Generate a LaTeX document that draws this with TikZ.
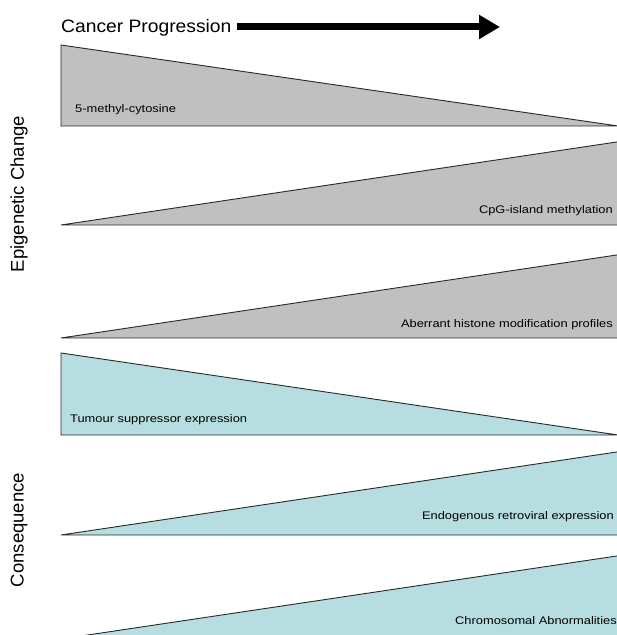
\documentclass[tikz,border=0pt]{standalone}
\usepackage{fontspec}
\setmainfont{Liberation Sans}
\usetikzlibrary{arrows.meta}
\definecolor{wedgegray}{RGB}{192,192,192}
\definecolor{wedgeteal}{RGB}{182,222,225}
\definecolor{edgecol}{RGB}{40,40,40}

\begin{document}
\begin{tikzpicture}[x=1pt,y=1pt,
    epi/.style={fill=wedgegray, draw=edgecol, line width=0.9pt},
    cons/.style={fill=wedgeteal, draw=edgecol, line width=0.9pt},
    lbl/.style={font=\fontsize{11}{13}\selectfont, inner sep=0pt},
    side/.style={font=\fontsize{18.5}{22}\selectfont, rotate=90, inner sep=0pt}]
    \useasboundingbox (0,0) rectangle (617,635);
    \clip (0,0) rectangle (617,635);

    % Title and arrow
    \node[anchor=west, inner sep=0pt, font=\fontsize{18}{22}\selectfont] (title) at (61,607) {\scalebox{1.07}[1]{Cancer Progression}};
    \coordinate (arrowstart) at (237,608);
    \coordinate (arrowend) at (500,608);
    \draw[line width=7pt, -{Triangle[length=21pt,width=23pt]}] (arrowstart) -- (arrowend);

    % Epigenetic change wedges
    \filldraw[epi] (61,590) -- (61,509) -- (618,509) -- cycle;
    \filldraw[epi] (61,410) -- (620,493.5) -- (620,410) -- cycle;
    \filldraw[epi] (61,297) -- (620,380.5) -- (620,297) -- cycle;

    % Consequence wedges
    \filldraw[cons] (61,282) -- (61,200) -- (618,200) -- cycle;
    \filldraw[cons] (61,100) -- (620,183.5) -- (620,100) -- cycle;
    \filldraw[cons] (61,-4) -- (620,79.5) -- (620,-10) -- (61,-10) -- cycle;

    % Labels
    \node[lbl, anchor=west] (methyl) at (75,525) {\scalebox{1.17}[1]{5-methyl-cytosine}};
    \node[lbl, anchor=east] (cpg) at (613,424) {\scalebox{1.17}[1]{CpG-island methylation}};
    \node[lbl, anchor=east] (histone) at (613,310) {\scalebox{1.17}[1]{Aberrant histone modification profiles}};
    \node[lbl, anchor=west] (tumour) at (70,215) {\scalebox{1.17}[1]{Tumour suppressor expression}};
    \node[lbl, anchor=east] (retro) at (614,118) {\scalebox{1.17}[1]{Endogenous retroviral expression}};
    \node[lbl, anchor=east] (chromo) at (617,14) {\scalebox{1.17}[1]{Chromosomal Abnormalities}};

    % Side labels
    \node[side] (epigenetic) at (19,441) {Epigenetic Change};
    \node[side] (consequence) at (19,105) {Consequence};
\end{tikzpicture}
\end{document}
